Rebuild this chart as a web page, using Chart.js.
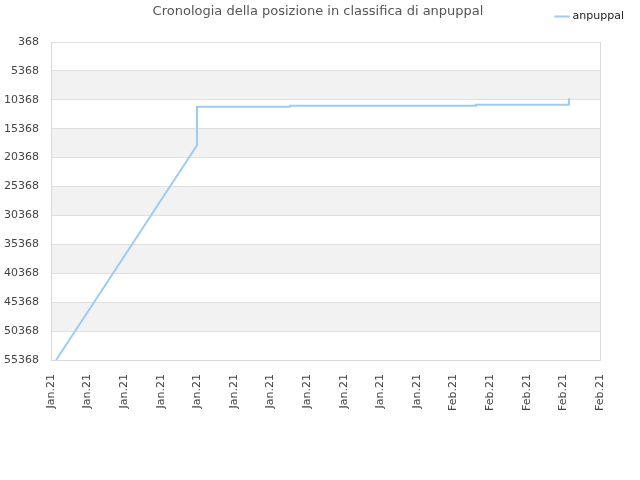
<!DOCTYPE html>
<html>
<head>
<meta charset="utf-8">
<script src="https://cdn.jsdelivr.net/npm/chart.js@4/dist/chart.umd.min.js"></script>
<style>
  html, body { margin: 0; padding: 0; background: #fff; }
  #wrap { width: 640px; height: 480px; }
</style>
</head>
<body>
<div id="wrap"><canvas id="rankChart"></canvas></div>
<script>
// dati
const chartTitle = "Cronologia della posizione in classifica di anpuppal";
const seriesName = "anpuppal";
const xLabels = ["Jan.21", "Jan.21", "Jan.21", "Jan.21", "Jan.21", "Jan.21", "Jan.21", "Jan.21",
  "Jan.21", "Jan.21", "Jan.21", "Feb.21", "Feb.21", "Feb.21", "Feb.21", "Feb.21"];
const xValues = [0.14, 3.99, 3.99, 6.53, 6.53, 11.61, 11.61, 14.15, 14.15];
const rankValues = [55368, 18230, 11560, 11560, 11390, 11390, 11210, 11210, 10100];
const yMin = 368;
const yMax = 55368;
const yStep = 5000;

const lineColor = "#9ecbf3";
const FONT = "'DejaVu Sans', sans-serif";

// bande grigie alternate + titolo
const bandsPlugin = {
  id: "bands",
  beforeDraw(chart) {
    const { ctx, chartArea, scales } = chart;
    const ticks = scales.y.ticks;
    ctx.save();
    ctx.fillStyle = "#f2f2f2";
    for (let i = 1; i < ticks.length - 1; i += 2) {
      const a = scales.y.getPixelForValue(ticks[i].value);
      const b = scales.y.getPixelForValue(ticks[i + 1].value);
      ctx.fillRect(chartArea.left, a, chartArea.right - chartArea.left, b - a);
    }
    ctx.restore();
  },
  afterDraw(chart) {
    const ctx = chart.ctx;
    ctx.save();
    ctx.font = "13px " + FONT;
    ctx.fillStyle = "#555";
    ctx.textAlign = "center";
    ctx.textBaseline = "middle";
    ctx.fillText(chartTitle, 318, 12);
    ctx.restore();
  }
};

const ctx = document.getElementById("rankChart").getContext("2d");
let rankChart = new Chart(ctx, {
  type: "line",
  data: {
    datasets: [
      {
        label: seriesName,
        data: xValues.map((x, i) => ({ x: x, y: rankValues[i] })),
        borderColor: lineColor,
        backgroundColor: lineColor,
        borderWidth: 2,
        pointRadius: 0,
        tension: 0,
        fill: false,
      },
    ],
  },
  plugins: [bandsPlugin],
  options: {
    responsive: true,
    maintainAspectRatio: false,
    animation: false,
    layout: { padding: { top: 2, right: 7, left: 0, bottom: 0 } },
    scales: {
      x: {
        type: "linear",
        min: 0,
        max: 15,
        grid: { display: false },
        border: { color: "#d9d9d9" },
        afterFit: (s) => { s.height = 120; },
        ticks: {
          stepSize: 1,
          autoSkip: false,
          maxRotation: 90,
          minRotation: 90,
          padding: 6,
          color: "#444",
          font: { family: FONT, size: 11 },
          callback: (v) => xLabels[v],
        },
      },
      xTop: {
        type: "linear",
        position: "top",
        min: 0,
        max: 15,
        grid: { display: false },
        border: { display: false },
        ticks: { display: false },
        afterFit: (s) => { s.height = 10; },
      },
      y: {
        reverse: true,
        min: yMin,
        max: yMax,
        grid: { color: "#e0e0e0", drawTicks: false },
        border: { color: "#d9d9d9" },
        afterFit: (s) => { s.width = 51; },
        ticks: {
          stepSize: yStep,
          padding: 12,
          color: "#444",
          font: { family: FONT, size: 11 },
          callback: (v) => String(v),
        },
      },
      y2: {
        position: "right",
        min: yMin,
        max: yMax,
        grid: { display: false },
        border: { color: "#d9d9d9" },
        ticks: { display: false },
        afterFit: (s) => { s.width = 33; },
      },
    },
    plugins: {
      title: { display: false },
      tooltip: { enabled: false },
      legend: {
        display: true,
        position: "top",
        align: "end",
        labels: {
          usePointStyle: true,
          pointStyle: "line",
          boxWidth: 10,
          padding: 9,
          color: "#222",
          font: { family: FONT, size: 11 },
        },
      },
    },
  },
});
</script>
</body>
</html>
